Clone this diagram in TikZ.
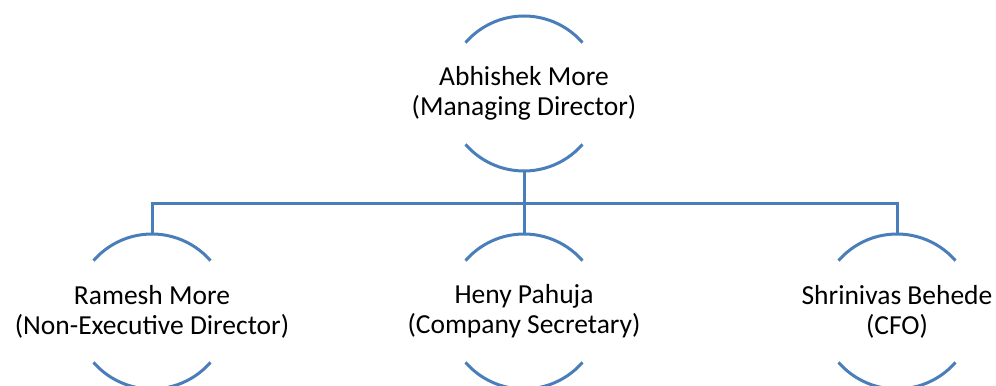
\documentclass[tikz,border=0pt]{standalone}
\usepackage{fontspec}
\setmainfont{Carlito}
\usetikzlibrary{positioning,calc}
\definecolor{rimblue}{HTML}{4A7EBB}

\begin{document}
\begin{tikzpicture}[
  x=1bp, y=1bp,
  person/.style={align=center, inner sep=0pt, font=\fontsize{27.5bp}{30bp}\selectfont},
  rim/.style={draw=rimblue, line width=3bp},
  link/.style={draw=rimblue, line width=3bp}
]
\useasboundingbox (0,0) rectangle (996,385);

\node[person] (md) at (524,291.5) {Abhishek More\\(Managing Director)};
\node[person] (ramesh) at (152,73.5) {Ramesh More\\(Non-Executive Director)};
\node[person] (cs) at (524,73.5) {Heny Pahuja\\(Company Secretary)};
\node[person] (cfo) at (897,73.5) {Shrinivas Behede\\(CFO)};

% open circles
\foreach \n in {md,ramesh,cs,cfo} {
  \draw[rim] ([shift={(41:77.5)}]\n.center) arc[start angle=41, end angle=139, radius=77.5];
  \draw[rim] ([shift={(-41:77.5)}]\n.center) arc[start angle=-41, end angle=-139, radius=77.5];
}

% Links
\coordinate (bus) at ($(md.center)+(0,-109.5)$);
\draw[link] ([yshift=-77.5]md.center) -- (bus);
\draw[link] ([yshift=77.5]ramesh.center) |- (bus) -| ([yshift=77.5]cfo.center);
\draw[link] (bus) -- ([yshift=77.5]cs.center);

\end{tikzpicture}
\end{document}
